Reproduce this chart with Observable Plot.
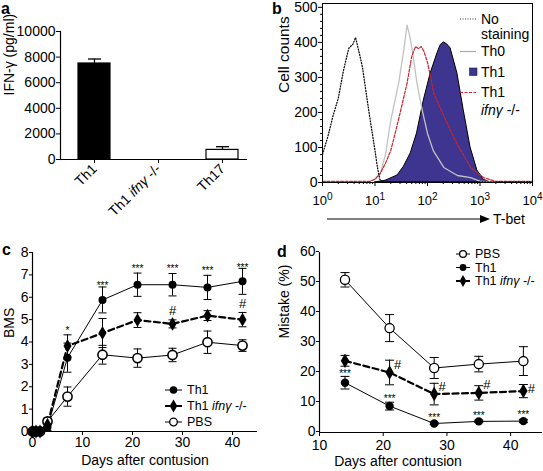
<!DOCTYPE html>
<html><head><meta charset="utf-8">
<script src="https://cdn.jsdelivr.net/npm/d3@7"></script>
<script src="https://cdn.jsdelivr.net/npm/@observablehq/plot@0.6"></script>
<style>
body{margin:0;background:#fff;}
#wrap{position:relative;width:543px;height:471px;overflow:hidden;font-family:"Liberation Sans",Arial,sans-serif;background:#fff;}
#wrap svg{position:absolute;}
</style></head><body><div id="wrap"></div>
<script>
// ---------- Panel a ----------
const aCategories = ["Th1", "Th1 ifnγ -/-", "Th17"];
const aValues = [7500, 0, 750];
const aErrors = [350, 0, 250];
const aTicks = [0, 2000, 4000, 6000, 8000, 10000];

// ---------- Panel b (histograms, log10 intensity vs counts) ----------
const bNoStainLog = [0, 0.1, 0.2, 0.3, 0.4, 0.5, 0.58, 0.63, 0.7, 0.76, 0.88, 1.0, 1.05, 1.1, 1.3, 2, 3, 4];
const bNoStainCnt = [80, 130, 190, 240, 320, 383, 395, 414, 370, 330, 206, 91, 40, 5, 2, 2, 2, 2];
const bTh0Log = [0, 0.9, 1.0, 1.1, 1.2, 1.3, 1.45, 1.55, 1.61, 1.66, 1.71, 1.8, 1.9, 2.0, 2.11, 2.31, 2.57, 2.82, 3.0, 3.5, 4];
const bTh0Cnt = [2, 2, 8, 25, 80, 177, 283, 380, 449, 420, 377, 283, 206, 140, 91, 43, 20, 14, 4, 2, 2];
const bKoLog = [0, 0.9, 1.0, 1.1, 1.2, 1.3, 1.4, 1.49, 1.61, 1.7, 1.77, 1.83, 1.88, 1.93, 2.0, 2.06, 2.12, 2.31, 2.53, 2.7, 2.82, 3.07, 3.3, 4];
const bKoCnt = [3, 3, 10, 26, 55, 91, 150, 206, 283, 360, 388, 382, 388, 375, 343, 300, 254, 190, 120, 75, 43, 14, 3, 3];
const bTh1Log = [1.0, 1.2, 1.43, 1.55, 1.68, 1.8, 1.93, 2.06, 2.19, 2.25, 2.31, 2.37, 2.44, 2.57, 2.69, 2.82, 2.95, 3.07, 3.2];
const bTh1Cnt = [0, 5, 20, 45, 83, 140, 234, 311, 369, 392, 400, 395, 383, 311, 206, 100, 34, 8, 0];
const bYTicks = [0, 100, 200, 300, 400, 500];
const bXTicks = [1, 10, 100, 1000, 10000];
const bLegend = ["No\nstaining", "Th0", "Th1", "Th1\nifnγ -/-"];

// ---------- Panel c (BMS) ----------
const cDays = [0, 0.7, 1.5, 3, 7, 14, 21, 28, 35, 42];
const cTh1 = [0, 0, 0, 0.2, 3.3, 5.88, 6.56, 6.56, 6.44, 6.71];
const cTh1Err = [0, 0, 0, 0.2, 0.65, 0.58, 0.52, 0.5, 0.54, 0.58];
const cKo = [0, 0, 0, 0.3, 3.82, 4.4, 4.98, 4.81, 5.18, 5.0];
const cKoErr = [0, 0, 0, 0.25, 0.5, 0.65, 0.33, 0.18, 0.22, 0.32];
const cPBS = [0, 0, 0, 0.45, 1.56, 3.43, 3.28, 3.42, 3.99, 3.84];
const cPBSErr = [0, 0, 0, 0.15, 0.43, 0.42, 0.41, 0.3, 0.5, 0.26];
const cStarDays = [7, 14, 21, 28, 35, 42];
const cStarY = [4.65, 6.66, 7.41, 7.41, 7.3, 7.45];
const cStarText = ["*", "***", "***", "***", "***", "***"];
const cHashDays = [28, 42];
const cHashY = [5.4, 5.7];
const cXTicks = [0, 10, 20, 30, 40];
const cYTicks = [0, 1, 2, 3, 4, 5, 6, 7, 8];
const cLegend = ["Th1", "Th1 ifnγ -/-", "PBS"];

// ---------- Panel d (Mistake %) ----------
const dDays = [14, 21, 28, 35, 42];
const dPBS = [50.9, 34.8, 21.5, 22.8, 23.8];
const dPBSErr = [2.4, 4.5, 3.5, 2.6, 4.8];
const dTh1 = [16.6, 8.8, 3.0, 3.7, 3.8];
const dTh1Err = [2.1, 1.3, 0.4, 0.4, 0.5];
const dKo = [23.9, 20.0, 12.8, 13.2, 13.8];
const dKoErr = [1.8, 4.1, 3.6, 2.4, 2.2];
const dStarDays = [14, 21, 28, 35, 42];
const dStarY = [20.6, 12.2, 5.9, 6.5, 6.9];
const dHashDays = [21, 28, 35, 42];
const dHashY = [22.6, 15.2, 15.9, 14.7];
const dXTicks = [10, 20, 30, 40];
const dYTicks = [0, 10, 20, 30, 40, 50, 60];
const dLegend = ["PBS", "Th1", "Th1 ifnγ -/-"];

// ---------- helpers ----------
const FONT = '"Liberation Sans", Arial, sans-serif';
const baseStyle = {fontFamily: FONT, fontSize: "14px", background: "transparent", overflow: "visible"};
const cap = {draw(ctx, size) { const w = Math.sqrt(size / Math.PI); ctx.moveTo(-w, 0); ctx.lineTo(w, 0); }};
const PURPLE = "#3e3590";
const RED = "#c8262c";
const GREY = "#c2c2c2";
const plain = d => String(d);

function rich(sel, str) {
  sel.text(null);
  str.split(/(ifnγ)/).forEach(p => {
    if (!p) return;
    const t = sel.append("tspan").text(p);
    if (p === "ifnγ") t.attr("font-style", "italic");
  });
}
function place(svg, left, top) {
  svg.style.left = left + "px"; svg.style.top = top + "px";
  document.getElementById("wrap").appendChild(svg);
  d3.select(svg).selectAll("text").each(function() {
    if (this.textContent.includes("ifnγ") && this.childElementCount === 0) rich(d3.select(this), this.textContent);
  });
  return svg;
}
function rows(days, vals, errs) {
  return days.map((d, i) => ({day: d, v: vals[i], e: errs[i], lo: vals[i] - errs[i], hi: vals[i] + errs[i]}));
}
function errMarks(r, capR) {
  const eb = r.filter(d => d.e > 0);
  return [
    Plot.ruleX(eb, {x: "day", y1: "lo", y2: "hi", stroke: "black", strokeWidth: 1}),
    Plot.dot(eb, {x: "day", y: "lo", symbol: cap, r: capR, fill: "none", stroke: "black", strokeWidth: 1}),
    Plot.dot(eb, {x: "day", y: "hi", symbol: cap, r: capR, fill: "none", stroke: "black", strokeWidth: 1})
  ];
}

// ---------- Panel a ----------
const aData = aCategories.map((c, i) => ({cat: c, v: aValues[i], e: aErrors[i], hi: aValues[i] + aErrors[i]}));
const A = Plot.plot({
  width: 270, height: 230, marginLeft: 60, marginRight: 23, marginTop: 31, marginBottom: 71,
  style: baseStyle,
  x: {type: "band", domain: aCategories, range: [62, 254], paddingInner: 0.5, paddingOuter: 0.25, align: 0.5},
  y: {domain: [0, 10000]},
  marks: [
    Plot.ruleX(aData.filter(d => d.e > 0), {x: "cat", y1: "v", y2: "hi", stroke: "black", strokeWidth: 1.2}),
    Plot.dot(aData.filter(d => d.e > 0), {x: "cat", y: "hi", symbol: cap, r: 6.5, fill: "none", stroke: "black", strokeWidth: 1.3}),
    Plot.barY(aData.filter(d => d.v > 0), {x: "cat", y: "v", fill: d => d.cat === "Th1" ? "black" : "white", stroke: "black", strokeWidth: 1.2}),
    Plot.ruleY([0], {strokeWidth: 1.2}),
    Plot.frame({anchor: "left", strokeWidth: 1.2}),
    Plot.axisY({ticks: aTicks, tickSize: 4, tickPadding: 1, tickFormat: plain, label: null}),
    Plot.axisX({tickRotate: -45, tickSize: 4, tickPadding: 3, label: null}),
    Plot.text(["IFN-γ (pg/ml)"], {frameAnchor: "left", dx: -51, rotate: -90})
  ]
});
place(A, 0, 0);

// ---------- Panel b ----------
const toXY = (L, C) => L.map((l, i) => ({x: Math.pow(10, l), y: C[i]}));
const bMinorX = [];
[1, 10, 100, 1000].forEach(p => { for (let k = 2; k <= 9; k++) bMinorX.push(k * p); });
const bMinorY = d3.range(0, 511, 20).filter(v => v % 100 !== 0);
const supDigits = "⁰¹²³⁴⁵⁶⁷⁸⁹";
const B = Plot.plot({
  width: 273, height: 230, marginLeft: 52, marginRight: 11, marginTop: 3, marginBottom: 48,
  style: baseStyle,
  x: {type: "log", domain: [1, 10000]},
  y: {domain: [0, 511]},
  marks: [
    Plot.areaY(toXY(bTh1Log, bTh1Cnt), {x: "x", y: "y", fill: PURPLE, stroke: "black", strokeWidth: 1}),
    Plot.line(toXY(bTh0Log, bTh0Cnt), {x: "x", y: "y", stroke: GREY, strokeWidth: 1.3}),
    Plot.line(toXY(bKoLog, bKoCnt), {x: "x", y: "y", stroke: RED, strokeWidth: 1.2, strokeDasharray: "3,1.5"}),
    Plot.line(toXY(bNoStainLog, bNoStainCnt), {x: "x", y: "y", stroke: "#111", strokeWidth: 1.3, strokeDasharray: "1,1.8"}),
    Plot.frame({strokeWidth: 1}),
    Plot.axisY({ticks: bYTicks, tickSize: 4, tickPadding: 1, label: null}),
    Plot.axisY({ticks: bMinorY, tickSize: 2, tickFormat: () => "", label: null}),
    Plot.axisX({ticks: bXTicks, tickSize: 4, tickPadding: 9, label: null, fontSize: 13,
      tickFormat: d => "10" + supDigits[Math.round(Math.log10(d))]}),
    Plot.axisX({ticks: bMinorX, tickSize: 2, tickFormat: () => "", label: null}),
    Plot.text(["Cell counts"], {frameAnchor: "left", dx: -38, rotate: -90, fontSize: 15.5})
  ]
});
place(B, 270, 0);
d3.select(B).selectAll("text").each(function() {
  const t = this.textContent;
  if (/^10[⁰¹²³⁴⁵⁶⁷⁸⁹]$/.test(t)) {
    const s = d3.select(this); s.text("10");
    s.append("tspan").attr("dy", "-0.45em").attr("font-size", "10px").text(String(supDigits.indexOf(t[2])));
  }
});

// ---------- Panel c ----------
const cR1 = rows(cDays, cTh1, cTh1Err), cR2 = rows(cDays, cKo, cKoErr), cR3 = rows(cDays, cPBS, cPBSErr);
const C = Plot.plot({
  width: 270, height: 241, marginLeft: 32, marginRight: 13, marginTop: 22, marginBottom: 40,
  style: baseStyle,
  x: {domain: [0, 45]},
  y: {domain: [0, 8]},
  marks: [
    Plot.line(cR3, {x: "day", y: "v", stroke: "black", strokeWidth: 1}),
    Plot.line(cR1, {x: "day", y: "v", stroke: "black", strokeWidth: 1}),
    Plot.line(cR2, {x: "day", y: "v", stroke: "black", strokeWidth: 2.2, strokeDasharray: "6,3.5"}),
    ...errMarks(cR1, 4), ...errMarks(cR2, 4), ...errMarks(cR3, 4),
    Plot.dot(cR3, {x: "day", y: "v", r: 4.6, fill: "white", stroke: "black", strokeWidth: 1.6}),
    Plot.dot(cR1, {x: "day", y: "v", r: 4, fill: "black"}),
    Plot.dot(cR2, {x: "day", y: "v", symbol: "diamond", r: 4.2, fill: "black"}),
    Plot.text(cStarDays.map((d, i) => ({day: d, y: cStarY[i], t: cStarText[i]})), {x: "day", y: "y", text: "t", fontSize: 10, dy: 3}),
    Plot.text(cHashDays.map((d, i) => ({day: d, y: cHashY[i]})), {x: "day", y: "y", text: () => "#", fontSize: 13}),
    Plot.ruleY([0], {strokeWidth: 1.2}),
    Plot.ruleX([0], {strokeWidth: 1.2}),
    Plot.axisX({ticks: cXTicks, tickSize: 4, tickPadding: 2, label: null}),
    Plot.axisY({ticks: cYTicks, tickSize: 3, tickPadding: 1, label: null}),
    Plot.text(["BMS"], {frameAnchor: "left", dx: -23, dy: -4, rotate: -90}),
    Plot.text(["Days after contusion"], {frameAnchor: "bottom", dy: 33})
  ]
});
place(C, 0, 230);

// ---------- Panel d ----------
const dR1 = rows(dDays, dPBS, dPBSErr), dR2 = rows(dDays, dTh1, dTh1Err), dR3 = rows(dDays, dKo, dKoErr);
const D = Plot.plot({
  width: 273, height: 241, marginLeft: 49, marginRight: 1, marginTop: 22, marginBottom: 39,
  style: baseStyle,
  x: {domain: [10, 45]},
  y: {domain: [0, 60]},
  marks: [
    Plot.line(dR1, {x: "day", y: "v", stroke: "black", strokeWidth: 1}),
    Plot.line(dR2, {x: "day", y: "v", stroke: "black", strokeWidth: 1}),
    Plot.line(dR3, {x: "day", y: "v", stroke: "black", strokeWidth: 2.2, strokeDasharray: "6,3.5"}),
    ...errMarks(dR1, 4.5), ...errMarks(dR2, 4.5), ...errMarks(dR3, 4.5),
    Plot.dot(dR1, {x: "day", y: "v", r: 4.6, fill: "white", stroke: "black", strokeWidth: 1.3}),
    Plot.dot(dR2, {x: "day", y: "v", r: 4.2, fill: "black"}),
    Plot.dot(dR3, {x: "day", y: "v", symbol: "diamond", r: 4.4, fill: "black"}),
    Plot.text(dStarDays.map((d, i) => ({day: d, y: dStarY[i]})), {x: "day", y: "y", text: () => "***", fontSize: 10, dy: 3}),
    Plot.text(dHashDays.map((d, i) => ({day: d, y: dHashY[i]})), {x: "day", y: "y", text: () => "#", fontSize: 13, dx: 8}),
    Plot.ruleY([0], {strokeWidth: 1.2}),
    Plot.ruleX([10], {strokeWidth: 1.2}),
    Plot.axisX({ticks: dXTicks, tickSize: 4, tickPadding: 4, label: null}),
    Plot.axisY({ticks: dYTicks, tickSize: 3, tickPadding: 1, dy: -1, label: null}),
    Plot.text(["Mistake (%)"], {frameAnchor: "left", dx: -35, dy: -4, rotate: -90}),
    Plot.text(["Days after contusion"], {frameAnchor: "bottom", dx: -33, dy: 33})
  ]
});
place(D, 270, 230);

// ---------- overlay: panel letters, legends, arrow ----------
const ov = d3.select("#wrap").append("svg").attr("width", 543).attr("height", 471)
  .style("left", "0px").style("top", "0px").style("font-family", FONT);
const letters = [["a", 1, 14], ["b", 272, 14], ["c", 2, 255], ["d", 277, 257]];
letters.forEach(([t, x, y]) => ov.append("text").attr("x", x).attr("y", y).attr("font-size", 16).attr("font-weight", "bold").text(t));

function legText(x, y, str, size) {
  const t = ov.append("text").attr("x", x).attr("y", y).attr("dy", "0.35em").attr("font-size", size);
  rich(t, str);
  return t;
}
// panel b legend
ov.append("line").attr("x1", 460).attr("x2", 476).attr("y1", 19).attr("y2", 19).attr("stroke", "#333").attr("stroke-dasharray", "1,1.5");
legText(481, 19, bLegend[0].split("\n")[0], 14);
legText(481, 34.5, bLegend[0].split("\n")[1], 14);
ov.append("line").attr("x1", 460).attr("x2", 476).attr("y1", 51.5).attr("y2", 51.5).attr("stroke", "#aaa").attr("stroke-width", 1.2);
legText(481, 51.5, bLegend[1], 14);
ov.append("rect").attr("x", 469.5).attr("y", 68).attr("width", 7.5).attr("height", 7.5).attr("fill", PURPLE).attr("stroke", "#222").attr("stroke-width", 0.6);
legText(481, 72, bLegend[2], 14);
ov.append("line").attr("x1", 460).attr("x2", 476).attr("y1", 92.5).attr("y2", 92.5).attr("stroke", RED).attr("stroke-dasharray", "3,1.5").attr("stroke-width", 1.1);
legText(481, 92.5, bLegend[3].split("\n")[0], 14);
legText(481, 110, bLegend[3].split("\n")[1], 14);

// T-bet arrow
ov.append("line").attr("x1", 327).attr("x2", 481).attr("y1", 219).attr("y2", 219).attr("stroke", "black").attr("stroke-width", 1);
ov.append("path").attr("d", "M480,215 L490,219 L480,223 Z").attr("fill", "black");
legText(493, 219, "T-bet", 14);

// line legends (c and d)
function lineLegend(items, x0, x1, xm, xt, ys, size, r) {
  items.forEach((it, i) => {
    const y = ys[i];
    ov.append("line").attr("x1", x0).attr("x2", x1).attr("y1", y).attr("y2", y).attr("stroke", "black").attr("stroke-width", it.lw);
    if (it.kind === "open") ov.append("circle").attr("cx", xm).attr("cy", y).attr("r", r).attr("fill", "white").attr("stroke", "black").attr("stroke-width", 1.3);
    else if (it.kind === "dot") ov.append("circle").attr("cx", xm).attr("cy", y).attr("r", r).attr("fill", "black");
    else ov.append("path").attr("transform", `translate(${xm},${y})`).attr("d", d3.symbol(d3.symbolDiamond, Math.PI * r * r * 1.1)()).attr("fill", "black");
    legText(xt, y, it.label, size);
  });
}
const styleOf = {"Th1": {kind: "dot", lw: 1}, "Th1 ifnγ -/-": {kind: "diamond", lw: 2}, "PBS": {kind: "open", lw: 1}};
lineLegend(cLegend.map(l => ({label: l, ...styleOf[l]})), 165, 182, 173.5, 187, [390, 406, 422], 12.5, 3.8);
lineLegend(dLegend.map(l => ({label: l, ...styleOf[l]})), 456, 470, 463, 475, [254, 267.5, 281], 12.5, 3.4);
</script></body></html>
